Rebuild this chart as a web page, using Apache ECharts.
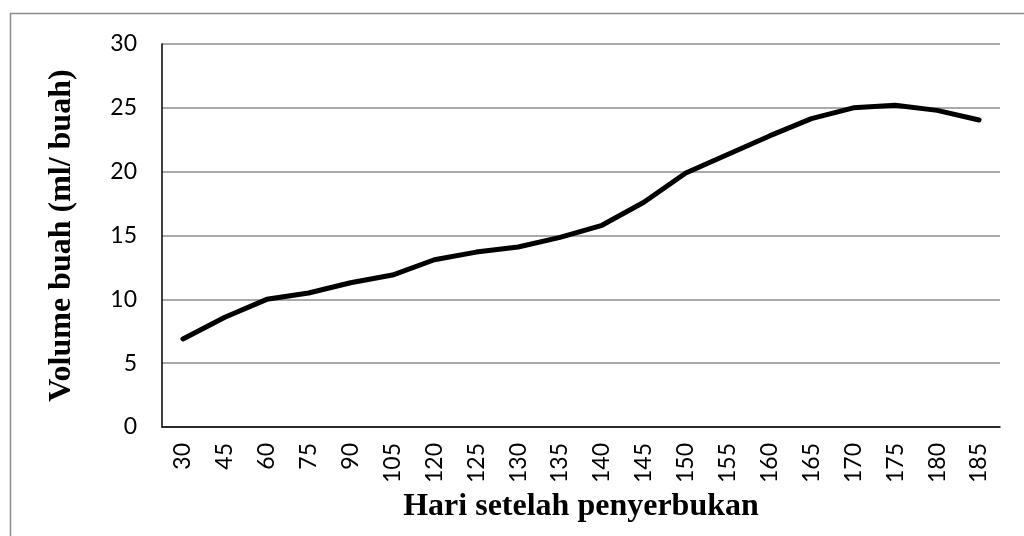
<!DOCTYPE html>
<html>
<head>
<meta charset="utf-8">
<script src="https://cdn.jsdelivr.net/npm/echarts@6/dist/echarts.min.js"></script>
<style>html,body{margin:0;padding:0;background:#fff;}#c{width:1024px;height:536px;}</style>
</head>
<body>
<div id="c"></div>
<script>
var categories = ['30','45','60','75','90','105','120','125','130','135','140','145','150','155','160','165','170','175','180','185'];
var volume = [6.9, 8.6, 10.0, 10.5, 11.3, 11.9, 13.1, 13.7, 14.1, 14.85, 15.8, 17.6, 19.9, 21.35, 22.8, 24.15, 25.0, 25.2, 24.8, 24.05];
var yTicks = { min: 0, max: 30, interval: 5 };
var xTitle = 'Hari setelah penyerbukan';
var yTitle = 'Volume buah (ml/ buah)';

var chart = echarts.init(document.getElementById('c'));
chart.setOption({
  animation: false,
  backgroundColor: '#fff',
  graphic: [{
    type: 'rect', left: 8, top: 11,
    shape: { width: 1030, height: 540 },
    style: { fill: 'none', stroke: '#8c8c8c', lineWidth: 1.5 },
    silent: true
  }],
  grid: { left: 162, right: 24, top: 44, bottom: 109 },
  xAxis: {
    type: 'category',
    data: categories,
    boundaryGap: true,
    name: xTitle,
    nameLocation: 'middle',
    nameGap: 64,
    nameTextStyle: { fontFamily: 'Liberation Serif', fontWeight: 'bold', fontSize: 32, color: '#000' },
    axisLine: { lineStyle: { color: '#000', width: 1.5 } },
    axisTick: { alignWithLabel: true, length: 6, lineStyle: { color: '#000', width: 1.5 } },
    axisLabel: { rotate: 90, margin: 16, fontFamily: 'Lato', fontSize: 23, color: '#000' },
    splitLine: { show: false }
  },
  yAxis: {
    type: 'value',
    min: yTicks.min, max: yTicks.max, interval: yTicks.interval,
    name: yTitle,
    nameLocation: 'middle',
    nameGap: 84,
    nameTextStyle: { fontFamily: 'Liberation Serif', fontWeight: 'bold', fontSize: 32, color: '#000' },
    axisLine: { show: true, lineStyle: { color: '#000', width: 1.5 } },
    axisTick: { show: false },
    axisLabel: { margin: 25, fontFamily: 'Lato', fontSize: 23, color: '#000' },
    splitLine: { lineStyle: { color: '#8c8c8c', width: 1.5 } }
  },
  series: [{
    type: 'line',
    data: volume,
    showSymbol: false,
    symbol: 'none',
    lineStyle: { color: '#000', width: 5, cap: 'round', join: 'round' },
    z: 3
  }]
});
</script>
</body>
</html>
